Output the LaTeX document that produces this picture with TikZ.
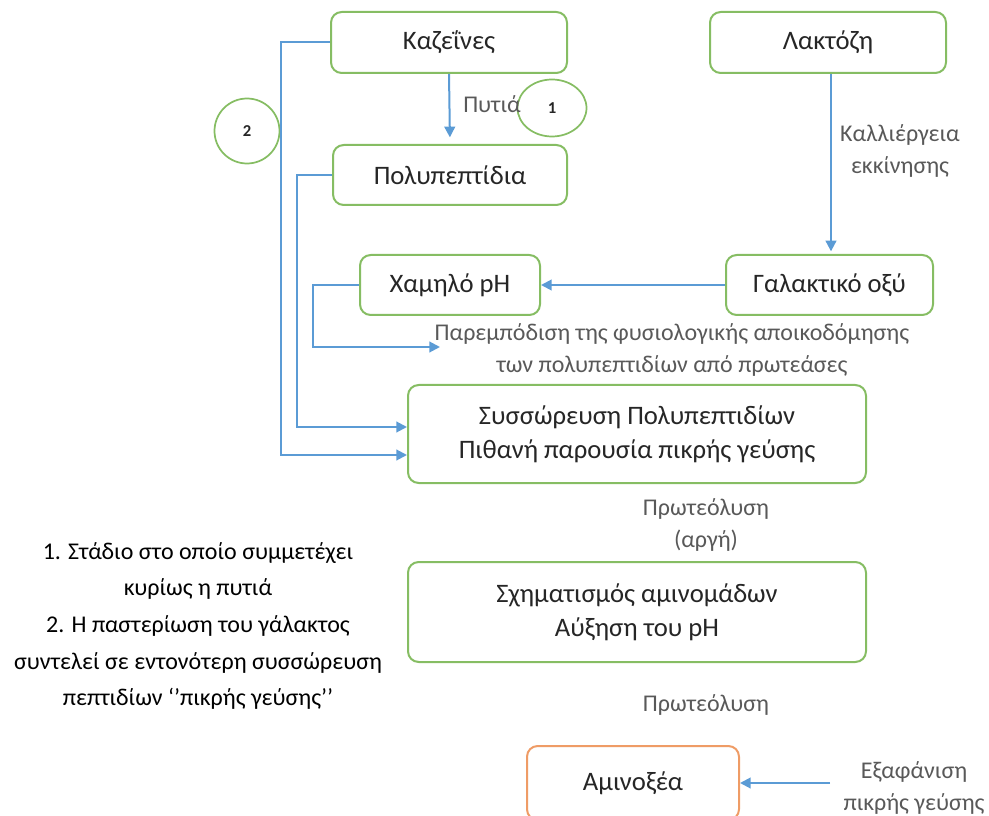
\documentclass[tikz,border=0pt]{standalone}
\usepackage{fontspec}
\setmainfont{Carlito}
\usetikzlibrary{arrows.meta,shapes.geometric}
\definecolor{boxgreen}{HTML}{86BD63}
\definecolor{boxorange}{HTML}{EF9C66}
\definecolor{flowblue}{HTML}{5B9BD5}
\definecolor{boxtext}{HTML}{262626}
\definecolor{labeltext}{HTML}{595959}
\tikzset{
  stage/.style={draw=boxgreen, line width=1.5pt, rounded corners=8pt, fill=white,
    align=center, text=boxtext, font=\fontsize{20}{25.5}\selectfont, inner sep=0pt},
  finalstage/.style={stage, draw=boxorange},
  marker/.style={draw=boxgreen, line width=1.3pt, ellipse, inner sep=0pt,
    text=boxtext, font=\fontsize{12.5}{14}\selectfont\bfseries},
  lbl/.style={align=center, text=labeltext, font=\fontsize{18}{23.5}\selectfont, inner sep=0pt},
  legend/.style={align=center, text=black, font=\fontsize{18}{27.5}\selectfont, inner sep=0pt},
  arr/.style={draw=flowblue, line width=1.5pt, -{Triangle[length=8pt,width=8pt]}},
}
\begin{document}
\begin{tikzpicture}[x=0.75pt, y=-0.75pt]
\useasboundingbox (0,0) rectangle (989,816);
\clip (0,0) rectangle (989,816);

% stages
\node[stage, minimum width=236*0.75pt, minimum height=61*0.75pt] (kaz) at (449,42.5) {Καζεΐνες};
\node[stage, minimum width=236*0.75pt, minimum height=61*0.75pt] (lak) at (828,42.5) {Λακτόζη};
\node[stage, minimum width=234*0.75pt, minimum height=60*0.75pt] (poly) at (450,175) {Πολυπεπτίδια};
\node[stage, minimum width=180*0.75pt, minimum height=60*0.75pt] (low) at (450,285) {Χαμηλό pH};
\node[stage, minimum width=207*0.75pt, minimum height=60*0.75pt] (gal) at (829.5,285) {Γαλακτικό οξύ};
\node[stage, minimum width=458*0.75pt, minimum height=98*0.75pt] (acc) at (637,434)
  {Συσσώρευση Πολυπεπτιδίων\\Πιθανή παρουσία πικρής γεύσης};
\node[stage, minimum width=458*0.75pt, minimum height=100*0.75pt] (form) at (637,612)
  {Σχηματισμός αμινομάδων\\Αύξηση του pH};
\node[finalstage, minimum width=212*0.75pt, minimum height=74*0.75pt] (amino) at (633,783) {Αμινοξέα};

% numbered markers
\node[marker, minimum width=69*0.75pt, minimum height=57*0.75pt] (m1) at (552,108) {1};
\node[marker, minimum width=65*0.75pt, minimum height=65*0.75pt] (m2) at (247,131) {2};

% labels
\node[lbl] (rennet) at (492,104) {Πυτιά};
\node[lbl] (starter) at (900,151) {Καλλιέργεια\\εκκίνησης};
\node[lbl] (inhib) at (672,350) {Παρεμπόδιση της φυσιολογικής αποικοδόμησης\\των πολυπεπτιδίων από πρωτεάσες};
\node[lbl] (prot1) at (706,525) {Πρωτεόλυση\\(αργή)};
\node[lbl] (prot2) at (706,705) {Πρωτεόλυση};
\node[lbl] (vanish) at (914,788) {Εξαφάνιση\\πικρής γεύσης};

% notes
\node[legend] (notes) at (198,626) {1. Στάδιο στο οποίο συμμετέχει\\κυρίως η πυτιά\\2. Η παστερίωση του γάλακτος\\συντελεί σε εντονότερη συσσώρευση\\πεπτιδίων ‘’πικρής γεύσης’’};

% connectors
\draw[arr, shorten >=5pt] (kaz.south) -- (poly.north);
\draw[arr, shorten >=2pt] (lak.south -| 831,0) -- (gal.north -| 831,0);
\draw[arr] (gal.west) -- (low.east);
\coordinate (inhibtip) at (440,347);
\draw[arr] (low.west) -| (313,347) -- (inhibtip);
\draw[arr] (poly.west) -| (297,427) -- (acc.west |- 0,427);
\draw[arr] (kaz.west) -| (281,455) -- (acc.west |- 0,455);
\coordinate (vanishtail) at (830,783);
\draw[arr] (vanishtail) -- (amino.east);
\end{tikzpicture}
\end{document}
